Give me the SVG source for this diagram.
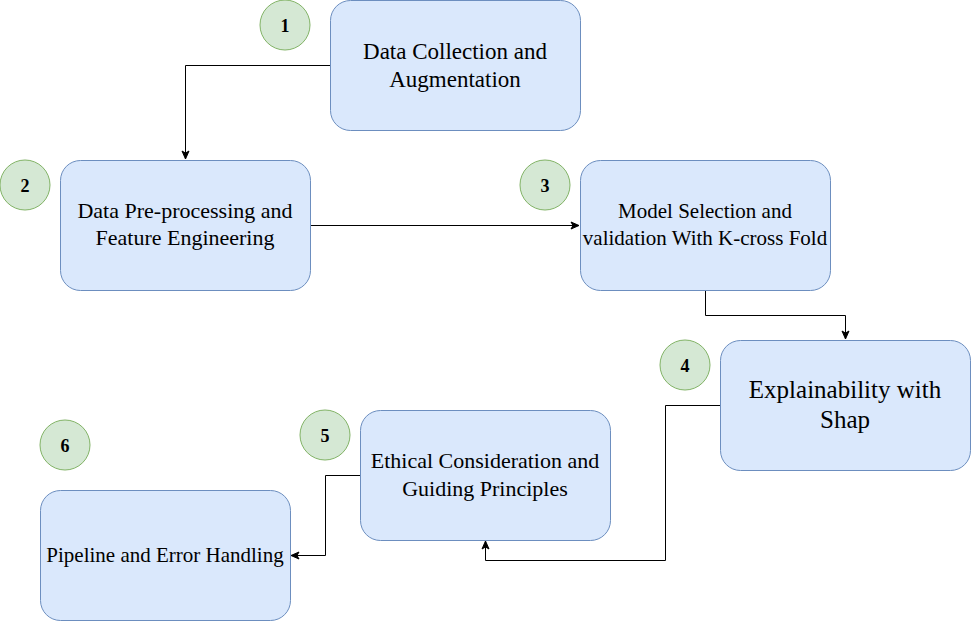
<svg xmlns="http://www.w3.org/2000/svg" width="971" height="621" viewBox="0 0 971 621">
<style>
.box{fill:#dae8fc;stroke:#6c8ebf;stroke-width:1}
.num{fill:#d5e8d4;stroke:#82b366;stroke-width:1}
.t{font-family:"Liberation Serif","Times New Roman",serif;fill:#000;text-anchor:middle}
.n{font-family:"Liberation Serif","Times New Roman",serif;font-weight:bold;font-size:18px;fill:#000;text-anchor:middle}
.c{fill:none;stroke:#000;stroke-width:1}
</style>
<defs>
<marker id="arr" markerUnits="userSpaceOnUse" markerWidth="10" markerHeight="10" viewBox="0 0 10 10" refX="9" refY="5" orient="auto">
<path d="M1,1.5 L9,5 L1,8.5 L3,5 Z" fill="#000" stroke="#000" stroke-width="1"/>
</marker>
</defs>
<rect width="971" height="621" fill="#fff"/>
<g id="connectors">
<path class="c" d="M330,65.5 H185.5 V159" marker-end="url(#arr)"/>
<path class="c" d="M310,225.5 H579" marker-end="url(#arr)"/>
<path class="c" d="M705.5,290 V315.5 H845.5 V339" marker-end="url(#arr)"/>
<path class="c" d="M720,405.5 H665.5 V560.5 H485.5 V541" marker-end="url(#arr)"/>
<path class="c" d="M360,475.5 H325.5 V555.5 H291" marker-end="url(#arr)"/>
</g>
<g id="node1">
<rect class="box" x="330.5" y="0.5" width="250" height="130" rx="20" ry="20"/>
<text class="t" font-size="23" x="455" y="59">Data Collection and</text>
<text class="t" font-size="23" x="455" y="87">Augmentation</text>
</g>
<g id="node2">
<rect class="box" x="60.5" y="160.5" width="250" height="130" rx="20" ry="20"/>
<text class="t" font-size="22" x="185" y="218">Data Pre-processing and</text>
<text class="t" font-size="22" x="185" y="245">Feature Engineering</text>
</g>
<g id="node3">
<rect class="box" x="580.5" y="160.5" width="250" height="130" rx="20" ry="20"/>
<text class="t" font-size="21" x="705" y="218">Model Selection and</text>
<text class="t" font-size="21" x="705" y="245">validation With K-cross Fold</text>
</g>
<g id="node4">
<rect class="box" x="720.5" y="340.5" width="250" height="130" rx="20" ry="20"/>
<text class="t" font-size="25" x="845" y="398">Explainability with</text>
<text class="t" font-size="25" x="845" y="428">Shap</text>
</g>
<g id="node5">
<rect class="box" x="360.5" y="410.5" width="250" height="130" rx="20" ry="20"/>
<text class="t" font-size="22" x="485" y="468">Ethical Consideration and</text>
<text class="t" font-size="22" x="485" y="496">Guiding Principles</text>
</g>
<g id="node6">
<rect class="box" x="40.5" y="490.5" width="250" height="130" rx="20" ry="20"/>
<text class="t" font-size="21" x="165" y="562">Pipeline and Error Handling</text>
</g>
<g id="badge1"><circle class="num" cx="285" cy="25" r="25"/><text class="n" x="285" y="31.5">1</text></g>
<g id="badge2"><circle class="num" cx="25" cy="185" r="25"/><text class="n" x="25" y="191.5">2</text></g>
<g id="badge3"><circle class="num" cx="545" cy="185" r="25"/><text class="n" x="545" y="191.5">3</text></g>
<g id="badge4"><circle class="num" cx="685" cy="365" r="25"/><text class="n" x="685" y="371.5">4</text></g>
<g id="badge5"><circle class="num" cx="325" cy="435" r="25"/><text class="n" x="325" y="441.5">5</text></g>
<g id="badge6"><circle class="num" cx="65" cy="445" r="25"/><text class="n" x="65" y="451.5">6</text></g>
</svg>
